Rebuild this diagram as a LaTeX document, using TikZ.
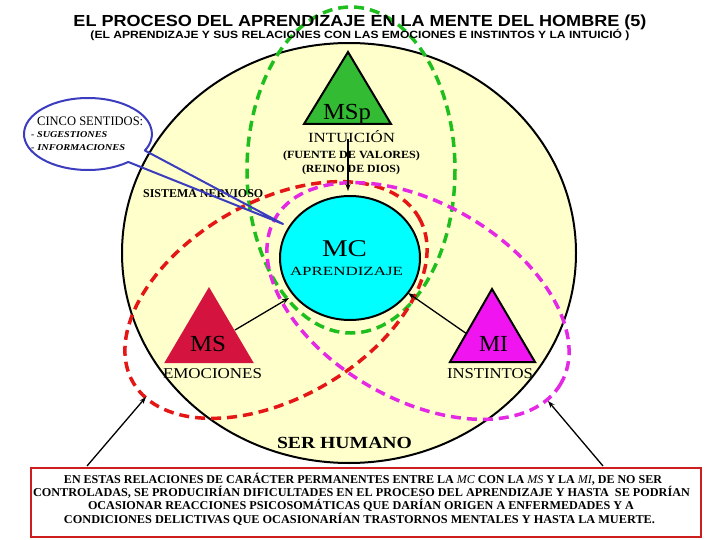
\documentclass[tikz,border=0pt]{standalone}
\usepackage{fontspec}
\setmainfont{Liberation Serif}
\setsansfont{Liberation Sans}
\usepackage{graphicx}
\usetikzlibrary{arrows.meta,shapes.geometric}
\definecolor{bgyellow}{RGB}{255,255,204}
\definecolor{mccyan}{RGB}{0,255,255}
\definecolor{trigreen}{RGB}{51,187,51}
\definecolor{tricrimson}{RGB}{212,20,62}
\definecolor{trimagenta}{RGB}{240,20,240}
\definecolor{dgreen}{RGB}{30,190,30}
\definecolor{dred}{RGB}{228,22,22}
\definecolor{dmagenta}{RGB}{228,40,228}
\definecolor{callblue}{RGB}{60,60,190}
\definecolor{boxred}{RGB}{204,30,30}
\newcommand{\fitw}[2]{\resizebox{#1}{\height}{#2}}
\newcommand{\fsz}[1]{\fontsize{#1}{#1}\selectfont}
\begin{document}
\begin{tikzpicture}[x=1pt,y=-1pt,
  txt/.style={inner sep=0pt, anchor=base},
  txtw/.style={inner sep=0pt, anchor=base west},
  dashring/.style={line width=3.5pt, dash pattern=on 10pt off 6pt},
  arr/.style={-{Stealth[length=7pt,width=5pt]}, line width=1.3pt, black},
  tri/.style={line width=2pt, line join=miter}]
\useasboundingbox (0,0) rectangle (720,540);

% big circle (ser humano)
\node[ellipse, draw=black, line width=2pt, fill=bgyellow,
      minimum width=454pt, minimum height=420pt, inner sep=0pt] (human) at (349,253) {};

% MC circle
\node[ellipse, draw=black, line width=2pt, fill=mccyan,
      minimum width=140pt, minimum height=124pt, inner sep=0pt] (mc) at (350,258) {};

% triangles
\coordinate (mspA) at (348,52);
\coordinate (mspB) at (304,124);
\coordinate (mspC) at (391,124);
\draw[tri, fill=trigreen, draw=black] (mspA) -- (mspB) -- (mspC) -- cycle;
\coordinate (msA) at (209,289);
\coordinate (msB) at (166,362);
\coordinate (msC) at (252,362);
\draw[tri, fill=tricrimson, draw=tricrimson] (msA) -- (msB) -- (msC) -- cycle;
\coordinate (miA) at (492,289);
\coordinate (miB) at (450,362);
\coordinate (miC) at (535,362);
\draw[tri, fill=trimagenta, draw=black] (miA) -- (miB) -- (miC) -- cycle;

% dashed rings
\draw[dashring, dgreen] (351,170) ellipse [x radius=104, y radius=163];
\draw[dashring, dred, rotate around={30:(276,300)}] (276,300) ellipse [x radius=165, y radius=98];
\draw[dashring, dmagenta, rotate around={-30:(418,301)}] (418,301) ellipse [x radius=165, y radius=98];

% titles
\node[txt] (title) at (360,27) {\fitw{573pt}{\sffamily\bfseries\fsz{16}EL PROCESO DEL APRENDIZAJE EN LA MENTE DEL HOMBRE (5)}};
\node[txt] (subtitle) at (360,39) {\fitw{539pt}{\sffamily\bfseries\fsz{10.5}(EL APRENDIZAJE Y SUS RELACIONES CON LAS EMOCIONES E INSTINTOS Y LA INTUICIÓ )}};

% labels
\node[txt] (msptxt) at (347,120) {\fitw{48pt}{\fsz{23}MSp}};
\node[txt] (intu) at (351.5,143) {\fitw{87pt}{\fsz{14}INTUICIÓN}};
\node[txt] (fuente) at (351.5,159) {\fitw{137pt}{\bfseries\fsz{11}(FUENTE DE VALORES)}};
\node[txt] (reino) at (351,173) {\fitw{98pt}{\bfseries\fsz{11}(REINO DE DIOS)}};
\node[txt] (mctxt) at (344.5,256) {\fitw{45pt}{\fsz{24}MC}};
\node[txt] (apr) at (346.5,275) {\fitw{113pt}{\fsz{12.5}APRENDIZAJE}};
\node[txt] (mstxt) at (208,351) {\fitw{36pt}{\fsz{23}MS}};
\node[txt] (mitxt) at (493.5,351) {\fitw{29pt}{\fsz{23}MI}};
\node[txt] (emo) at (212.5,378) {\fitw{99pt}{\fsz{15}EMOCIONES}};
\node[txt] (ins) at (490,378) {\fitw{86pt}{\fsz{15}INSTINTOS}};
\node[txt] (ser) at (344.5,448) {\fitw{135pt}{\bfseries\fsz{17}SER HUMANO}};
\node[txtw] (sis) at (143,197) {\fitw{120pt}{\bfseries\fsz{12}SISTEMA NERVIOSO}};

% callout
\coordinate (tip) at (283,224);
\draw[callblue, line width=2pt, line join=round]
  (tip) -- ([shift={(88,134)}]51:64 and 36)
  arc[start angle=51, end angle=387.3, x radius=64, y radius=36] -- cycle;
\node[txtw] (cinco) at (37,126) {\fitw{106pt}{\fsz{13}CINCO SENTIDOS:}};
\node[txtw] (sug) at (31,138) {\fitw{76pt}{\bfseries\itshape\fsz{9}- SUGESTIONES}};
\node[txtw] (inf) at (31,151) {\fitw{94pt}{\bfseries\itshape\fsz{9}- INFORMACIONES}};

% arrows
\coordinate (intuS) at (348,139);
\coordinate (mcTop) at (348,191);
\draw[arr] (intuS) -- (mcTop);
\coordinate (msS) at (235,330);
\coordinate (mcL) at (289,298);
\draw[arr] (msS) -- (mcL);
\coordinate (miS) at (467,334);
\coordinate (mcR) at (408,293);
\draw[arr] (miS) -- (mcR);

% bottom box
\node[draw=boxred, line width=2.5pt, minimum width=670pt, minimum height=69pt, inner sep=0pt] (box) at (366,502.5) {};
\coordinate (bl) at (87,466);
\coordinate (redT) at (146,397);
\draw[arr] (bl) -- (redT);
\coordinate (br) at (603,466);
\coordinate (magT) at (548,401);
\draw[arr] (br) -- (magT);

\node[txt] (l1) at (363,483) {\fitw{598pt}{\bfseries\fsz{12}EN ESTAS RELACIONES DE CARÁCTER PERMANENTES ENTRE LA {\mdseries\itshape MC} CON LA {\mdseries\itshape MS} Y LA {\mdseries\itshape MI}, DE NO SER}};
\node[txt] (l2) at (361.5,496) {\fitw{657pt}{\bfseries\fsz{12}CONTROLADAS, SE PRODUCIRÍAN DIFICULTADES EN EL PROCESO DEL APRENDIZAJE Y HASTA \ SE PODRÍAN}};
\node[txt] (l3) at (361,509) {\fitw{546pt}{\bfseries\fsz{12}OCASIONAR REACCIONES PSICOSOMÁTICAS QUE DARÍAN ORIGEN A ENFERMEDADES Y A}};
\node[txt] (l4) at (359.5,523) {\fitw{591pt}{\bfseries\fsz{12}CONDICIONES DELICTIVAS QUE OCASIONARÍAN TRASTORNOS MENTALES Y HASTA LA MUERTE.}};
\end{tikzpicture}
\end{document}
